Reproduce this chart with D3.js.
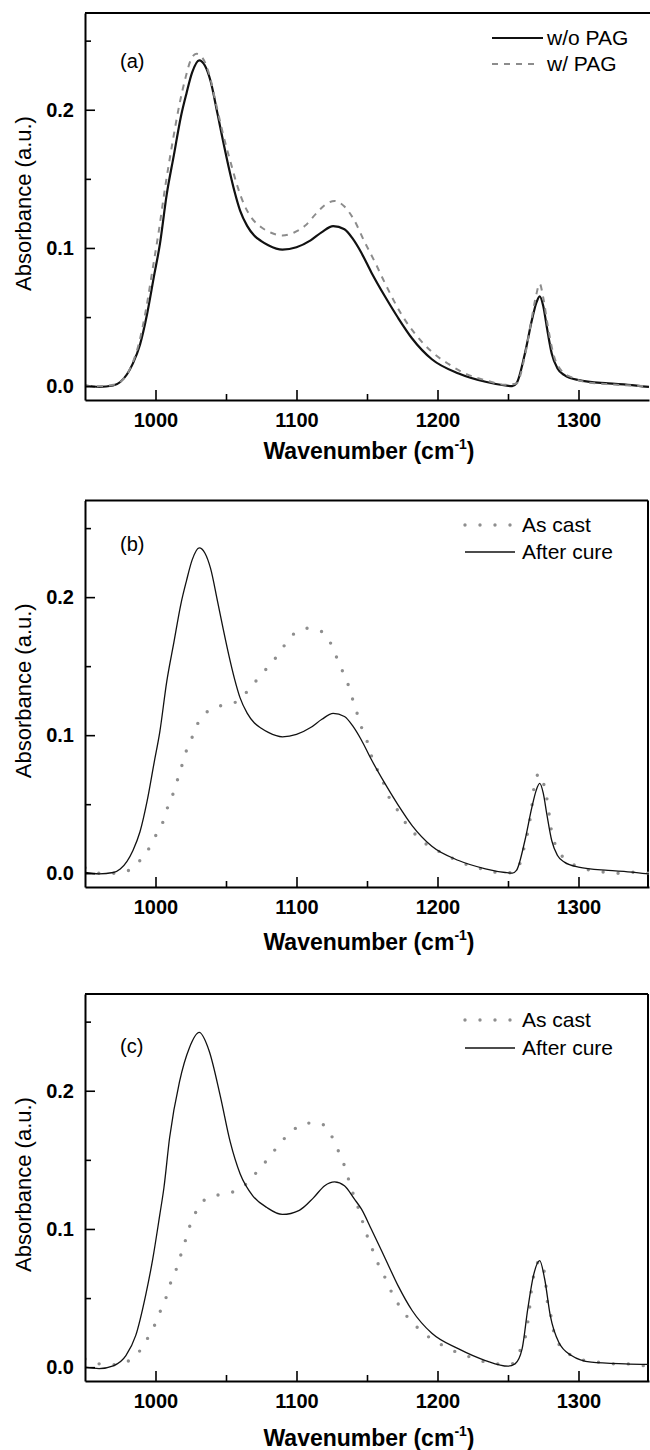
<!DOCTYPE html>
<html>
<head>
<meta charset="utf-8">
<title>FTIR spectra</title>
<style>
  body { margin: 0; background: #fff; }
  svg { display: block; font-family: "Liberation Sans", Arial, sans-serif; }
  .domain { stroke: #000; stroke-width: 2; }
  .tick line { stroke: #000; stroke-width: 1.6; }
</style>
</head>
<body>
<script src="https://cdn.jsdelivr.net/npm/d3@7/dist/d3.min.js"></script>
<script>
// values: wavenumber (cm-1) and absorbance (a.u.)
var xMajor = [1000, 1100, 1200, 1300];
var xMinor = [1050, 1150, 1250];
var yMajor = [0, 0.1, 0.2];
var yMinor = [0.05, 0.15, 0.25];

// (a) w/o PAG  and  (b) after cure
var wnCure = [950, 960, 970, 975, 984, 989, 994, 999, 1003, 1008, 1013, 1018, 1022, 1026, 1031, 1035, 1039, 1044, 1048, 1052,
  1056, 1060, 1065, 1070, 1075, 1080, 1090, 1100, 1110, 1118, 1126, 1134, 1140, 1146, 1153, 1163, 1172, 1182, 1196, 1215,
  1234, 1248, 1253, 1256, 1262, 1267, 1270, 1272.5, 1275, 1277.5, 1281, 1285, 1290, 1300, 1321, 1335, 1350];
var absCure = [0.0005, -0.0005, 0.0005, 0.003, 0.0165, 0.03, 0.052, 0.08, 0.102, 0.139, 0.167, 0.195, 0.212, 0.227, 0.2357, 0.232, 0.221, 0.197, 0.177, 0.158,
  0.141, 0.127, 0.116, 0.109, 0.105, 0.102, 0.0988, 0.1005, 0.1055, 0.1115, 0.1158, 0.1135, 0.1065, 0.0965, 0.0825, 0.0645, 0.0495, 0.0345, 0.0195, 0.0092,
  0.0032, 0.0005, 0.0, 0.002, 0.0237, 0.048, 0.06, 0.065, 0.058, 0.043, 0.0237, 0.013, 0.008, 0.0044, 0.002, 0.001, -0.0005];

// (a) w/ PAG
var wnPag = [950, 960, 970, 976, 983, 988, 993, 998, 1002, 1007, 1012, 1017, 1021, 1025, 1029, 1033, 1038, 1043, 1048, 1053,
  1058, 1063, 1068, 1075, 1082, 1090, 1098, 1106, 1114, 1120, 1127, 1134, 1141, 1148, 1156, 1163, 1175, 1184, 1196, 1208,
  1220, 1235, 1248, 1256, 1262, 1267, 1270, 1272.5, 1275, 1278, 1282, 1288, 1295, 1305, 1320, 1350];
var absPag = [0.0, 0.0, 0.001, 0.004, 0.015, 0.03, 0.054, 0.085, 0.11, 0.145, 0.176, 0.204, 0.222, 0.236, 0.2405, 0.238, 0.226, 0.204, 0.182, 0.163,
  0.145, 0.131, 0.122, 0.115, 0.111, 0.109, 0.111, 0.116, 0.125, 0.131, 0.134, 0.13, 0.12, 0.105, 0.089, 0.074, 0.051, 0.038, 0.0248, 0.0159,
  0.009, 0.004, 0.001, 0.002, 0.022, 0.05, 0.066, 0.074, 0.064, 0.045, 0.024, 0.011, 0.0065, 0.003, 0.0015, 0.0];

// (b) as cast
var wnCastB = [950, 960, 970, 979, 989, 996, 1001, 1006, 1009, 1013, 1016, 1019, 1022, 1026, 1030, 1038, 1048, 1057, 1067, 1075,
  1083, 1090, 1098, 1108, 1118, 1125, 1129, 1133, 1137, 1140, 1143, 1146, 1150, 1153, 1157, 1161.5, 1165, 1171, 1177, 1185,
  1195, 1205, 1216, 1227, 1237, 1248, 1256, 1262, 1265, 1267, 1269, 1272, 1274, 1276, 1278, 1280.6, 1283.4, 1289, 1299, 1309,
  1319, 1328, 1338, 1350];
var absCastB = [0.004, 0.0, 0.0, 0.0012, 0.0092, 0.019, 0.029, 0.039, 0.049, 0.059, 0.069, 0.079, 0.089, 0.0985, 0.1085, 0.118, 0.1218, 0.124, 0.134, 0.144,
  0.153, 0.163, 0.1733, 0.1775, 0.175, 0.165, 0.155, 0.1455, 0.1356, 0.1254, 0.1158, 0.106, 0.0959, 0.0855, 0.0758, 0.066, 0.0564, 0.0468, 0.037, 0.0274,
  0.0189, 0.014, 0.008, 0.0044, 0.0015, 0.0, 0.002, 0.021, 0.035, 0.049, 0.066, 0.072, 0.071, 0.061, 0.0516, 0.032, 0.021, 0.0116, 0.005, 0.002,
  0.0007, 0.0, 0.0007, 0.0];

// (c) after cure
var wnCureC = [950, 960, 970, 979, 986, 993, 998, 1003, 1006, 1010, 1017, 1024, 1031, 1038, 1046, 1053, 1060, 1069, 1079, 1090,
  1102, 1112, 1120, 1127, 1134, 1141, 1146, 1153, 1163, 1172, 1182, 1196, 1215, 1234, 1250, 1255, 1260, 1264, 1268, 1272.5,
  1276, 1280, 1286, 1295, 1309, 1333, 1350];
var absCureC = [0.0, -0.001, 0.001, 0.0084, 0.023, 0.052, 0.078, 0.11, 0.13, 0.166, 0.2065, 0.231, 0.2422, 0.229, 0.196, 0.163, 0.14, 0.124, 0.1155, 0.1105,
  0.1135, 0.1225, 0.1313, 0.134, 0.1313, 0.1217, 0.1145, 0.1, 0.0785, 0.059, 0.041, 0.0245, 0.0132, 0.0048, 0.0007, 0.0024, 0.0132, 0.042, 0.066, 0.0771,
  0.0638, 0.0373, 0.018, 0.0084, 0.0036, 0.0024, 0.002];

// (c) as cast
var wnCastC = [950, 960, 970, 979, 989, 995, 1000, 1004, 1008, 1011, 1015, 1018, 1021, 1024, 1028, 1035, 1044.5, 1054, 1063.5, 1072,
  1080, 1088, 1097, 1107, 1116, 1124.5, 1129, 1133, 1136, 1139, 1146, 1148.5, 1152.5, 1156, 1161, 1165, 1170, 1176, 1184.5, 1194,
  1204, 1213.6, 1223.5, 1233, 1243, 1252.6, 1258.5, 1262, 1265, 1267, 1272.5, 1276, 1278, 1280.4, 1282, 1286, 1295, 1304.6, 1314.5, 1324.6,
  1334.5, 1343.6, 1350];
var absCastC = [0.006, 0.0024, 0.0017, 0.0036, 0.012, 0.022, 0.0318, 0.042, 0.0518, 0.0619, 0.0716, 0.0814, 0.091, 0.1012, 0.111, 0.1212, 0.1246, 0.1265, 0.1318, 0.1414,
  0.151, 0.1615, 0.171, 0.1766, 0.1766, 0.168, 0.158, 0.1487, 0.139, 0.129, 0.1085, 0.0995, 0.0892, 0.0788, 0.069, 0.0595, 0.0494, 0.0398, 0.03, 0.0217,
  0.0156, 0.0108, 0.0072, 0.004, 0.0024, 0.0024, 0.012, 0.0205, 0.04, 0.059, 0.077, 0.0675, 0.047, 0.0373, 0.0277, 0.0168, 0.0084, 0.0048, 0.0036, 0.0024,
  0.0024, 0.0012, 0.001];

var styles = {
  thick: { stroke: "#111", width: 2.2, dash: null },
  dashed: { stroke: "#8c8c8c", width: 2, dash: "6,6" },
  thin: { stroke: "#111", width: 1.3, dash: null },
  dotted: { stroke: "#8e8e8e", width: 3.4, dash: "0,15" }
};

var panels = [
  { top: 13, bottom: 400, frameRight: 651, tag: "(a)", tagY: 68, titleY: 459,
    legendY: [38, 64], legendTextX: 547, legendX: [492, 543],
    series: [
      { name: "w/o PAG", wn: wnCure, abs: absCure, style: "thick" },
      { name: "w/ PAG", wn: wnPag, abs: absPag, style: "dashed" }
    ] },
  { top: 500.5, bottom: 887, frameRight: 648, tag: "(b)", tagY: 551, titleY: 950,
    legendY: [525, 552], legendTextX: 522, legendX: [465, 515],
    series: [
      { name: "As cast", wn: wnCastB, abs: absCastB, style: "dotted" },
      { name: "After cure", wn: wnCure, abs: absCure, style: "thin" }
    ] },
  { top: 994, bottom: 1381, frameRight: 648, tag: "(c)", tagY: 1053, titleY: 1446,
    legendY: [1020, 1048], legendTextX: 522, legendX: [465, 515],
    series: [
      { name: "As cast", wn: wnCastC, abs: absCastC, style: "dotted" },
      { name: "After cure", wn: wnCureC, abs: absCureC, style: "thin" }
    ] }
];

var left = 85, right = 649;
var svg = d3.select("body").append("svg")
  .attr("width", 650)
  .attr("height", 1450);

var x = d3.scaleLinear().domain([950, 1350]).range([left, right]);

function styleLine(sel, st) {
  sel.attr("fill", "none")
    .attr("stroke", st.stroke)
    .attr("stroke-width", st.width)
    .attr("stroke-linecap", st.dash && st.dash.indexOf("0,") === 0 ? "round" : "butt")
    .attr("stroke-dasharray", st.dash);
}

panels.forEach(function (p) {
  var y = d3.scaleLinear().domain([-0.01, 0.27]).range([p.bottom, p.top]);
  var g = svg.append("g");

  // frame top and right
  g.append("line").attr("x1", left).attr("x2", p.frameRight).attr("y1", p.top).attr("y2", p.top)
    .attr("stroke", "#000").attr("stroke-width", 2);
  g.append("line").attr("x1", p.frameRight).attr("x2", p.frameRight).attr("y1", p.top).attr("y2", p.bottom)
    .attr("stroke", "#000").attr("stroke-width", 2);

  var clipId = "clip" + p.tag.replace(/\W/g, "");
  svg.append("clipPath").attr("id", clipId).append("rect")
    .attr("x", left).attr("y", p.top).attr("width", right - left).attr("height", p.bottom - p.top);

  var line = d3.line()
    .x(function (d) { return x(d[0]); })
    .y(function (d) { return y(d[1]); })
    .curve(d3.curveMonotoneX);

  p.series.forEach(function (s) {
    g.append("path")
      .datum(d3.zip(s.wn, s.abs))
      .attr("clip-path", "url(#" + clipId + ")")
      .attr("d", line)
      .call(styleLine, styles[s.style]);
  });

  // axes
  var xa = g.append("g").attr("transform", "translate(0," + p.bottom + ")")
    .call(d3.axisBottom(x).tickValues(xMajor).tickSize(-10).tickSizeOuter(0).tickPadding(13).tickFormat(d3.format("d")));
  g.append("g").attr("transform", "translate(0," + p.bottom + ")")
    .call(d3.axisBottom(x).tickValues(xMinor).tickSize(-6).tickSizeOuter(0).tickFormat(""))
    .select(".domain").remove();
  var ya = g.append("g").attr("transform", "translate(" + left + ",0)")
    .call(d3.axisLeft(y).tickValues(yMajor).tickSize(-10).tickSizeOuter(0).tickPadding(11).tickFormat(d3.format(".1f")));
  g.append("g").attr("transform", "translate(" + left + ",0)")
    .call(d3.axisLeft(y).tickValues(yMinor).tickSize(-6).tickSizeOuter(0).tickFormat(""))
    .select(".domain").remove();
  [xa, ya].forEach(function (a) {
    a.selectAll("text").attr("font-family", "'Liberation Sans', Arial, sans-serif")
      .attr("font-size", 20).attr("font-weight", "bold").attr("fill", "#000");
  });

  // axis titles
  var t = g.append("text")
    .attr("x", (left + right) / 2 + 2)
    .attr("y", p.titleY)
    .attr("text-anchor", "middle")
    .attr("font-size", 23)
    .attr("font-weight", "bold")
    .text("Wavenumber (cm");
  t.append("tspan").attr("font-size", 14).attr("dy", -10).text("-1");
  t.append("tspan").attr("dy", 10).text(")");

  g.append("text")
    .attr("transform", "translate(31," + ((p.top + p.bottom) / 2 - 3) + ") rotate(-90)")
    .attr("text-anchor", "middle")
    .attr("font-size", 22)
    .text("Absorbance (a.u.)");

  // panel tag
  g.append("text").attr("x", 120).attr("y", p.tagY).attr("font-size", 20).text(p.tag);

  // legend
  p.series.forEach(function (s, i) {
    var ly = p.legendY[i];
    var st = styles[s.style];
    var x2 = s.style === "dotted" ? p.legendX[0] + 45.5 : (s.style === "dashed" ? p.legendX[1] - 6 : p.legendX[1]);
    g.append("line")
      .attr("x1", p.legendX[0]).attr("x2", x2)
      .attr("y1", ly).attr("y2", ly)
      .call(styleLine, st);
    g.append("text")
      .attr("x", p.legendTextX)
      .attr("y", ly + 7)
      .attr("font-size", 21)
      .text(s.name);
  });
});
</script>
</body>
</html>
